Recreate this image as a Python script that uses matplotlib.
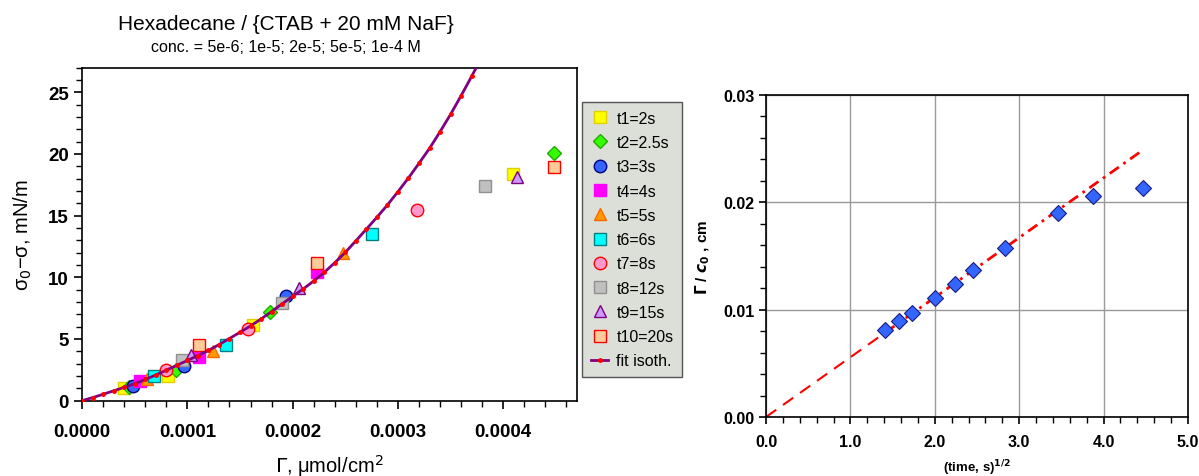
import matplotlib
matplotlib.use("Agg")
import matplotlib.pyplot as plt
from matplotlib.ticker import MultipleLocator, FormatStrFormatter
import numpy as np

plt.rcParams['font.family'] = ['Liberation Sans', 'DejaVu Sans']

# ---------------- data: left panel ----------------
series_labels = ["t1=2s", "t2=2.5s", "t3=3s", "t4=4s", "t5=5s",
                 "t6=6s", "t7=8s", "t8=12s", "t9=15s", "t10=20s"]

t1_gamma = [0.0000402, 0.0000814, 0.0001627, 0.0004097]
t1_pi = [1.00, 2.03, 6.13, 18.37]
t2_gamma = [0.0000450, 0.0000893, 0.0001785, 0.0004486]
t2_pi = [1.15, 2.51, 7.21, 20.05]
t3_gamma = [0.0000481, 0.0000972, 0.0001937]
t3_pi = [1.22, 2.79, 8.51]
t4_gamma = [0.0000554, 0.0001114, 0.0002229]
t4_pi = [1.62, 3.57, 10.40]
t5_gamma = [0.0000620, 0.0001241, 0.0002482]
t5_pi = [1.76, 4.05, 11.94]
t6_gamma = [0.0000687, 0.0001368, 0.0002749]
t6_pi = [2.03, 4.51, 13.48]
t7_gamma = [0.0000795, 0.0001580, 0.0003180]
t7_pi = [2.49, 5.81, 15.45]
t8_gamma = [0.0000953, 0.0001902, 0.0003823]
t8_pi = [3.30, 7.92, 17.37]
t9_gamma = [0.0001032, 0.0002061, 0.0004135]
t9_pi = [3.73, 9.11, 18.10]
t10_gamma = [0.0001114, 0.0002229, 0.0004486]
t10_pi = [4.54, 11.13, 18.91]

fit_gamma = [0.0, 0.00001, 0.00002, 0.00003, 0.00004, 0.00005, 0.00006, 0.00007,
             0.00008, 0.00009, 0.00010, 0.00011, 0.00012, 0.00013, 0.00014,
             0.00015, 0.00016, 0.00017, 0.00018, 0.00019, 0.00020, 0.00021,
             0.00022, 0.00023, 0.00024, 0.00025, 0.00026, 0.00027, 0.00028,
             0.00029, 0.00030, 0.00031, 0.00032, 0.00033, 0.00034, 0.00035,
             0.00036, 0.00037, 0.00038]
fit_pi = [0.0, 0.25, 0.52, 0.80, 1.08, 1.38, 1.72, 2.08, 2.47, 2.86, 3.26, 3.65,
          4.07, 4.54, 5.04, 5.54, 6.06, 6.62, 7.22, 7.85, 8.46, 9.05, 9.70,
          10.40, 11.18, 12.02, 12.95, 13.90, 14.86, 15.86, 16.94, 18.05, 19.24,
          20.45, 21.80, 23.21, 24.72, 26.29, 27.90]

# ---------------- data: right panel ----------------
sqrt_time = [1.414, 1.581, 1.732, 2.000, 2.236, 2.449, 2.828, 3.464, 3.873, 4.472]
gamma_over_c = [0.00814, 0.00891, 0.00972, 0.01111, 0.01241, 0.01365,
                0.01578, 0.01901, 0.02056, 0.02133]
fit_slope = 0.00557

# ---------------- styles ----------------
styles = [
    dict(marker='s', mfc='#ffff00', mec='#e0d000'),
    dict(marker='D', mfc='#33ff00', mec='#22aa00'),
    dict(marker='o', mfc='#3366ff', mec='#000080'),
    dict(marker='s', mfc='#ff00ff', mec='#ff00ff'),
    dict(marker='^', mfc='#ff9900', mec='#ff6600'),
    dict(marker='s', mfc='#00ffff', mec='#008080'),
    dict(marker='o', mfc='#ff99cc', mec='#ff0000'),
    dict(marker='s', mfc='#c0c0c0', mec='#909090'),
    dict(marker='^', mfc='#cc99ff', mec='#800080'),
    dict(marker='s', mfc='#ffcc99', mec='#ff0000'),
]
sizes = [9, 7, 9, 8, 9, 9, 9, 9, 9, 9]

W, H = 1199, 477
fig = plt.figure(figsize=(W / 100, H / 100), dpi=100)

# ---------------- left panel ----------------
axL = fig.add_axes([82 / W, 1 - 401.7 / H, (577 - 82) / W, (401.7 - 68.5) / H])
gammas = [t1_gamma, t2_gamma, t3_gamma, t4_gamma, t5_gamma,
          t6_gamma, t7_gamma, t8_gamma, t9_gamma, t10_gamma]
pis = [t1_pi, t2_pi, t3_pi, t4_pi, t5_pi, t6_pi, t7_pi, t8_pi, t9_pi, t10_pi]

handles = []
for g, p, lab, st, ms in zip(gammas, pis, series_labels, styles, sizes):
    h, = axL.plot(g, p, linestyle='none', markersize=ms, markeredgewidth=1.0,
                  label=lab, zorder=3, **st)
    handles.append(h)

hfit, = axL.plot(fit_gamma, fit_pi, color='#800080', lw=2.0, marker='o',
                 markersize=2.5, mfc='#ff0000', mec='#ff0000',
                 label='fit isoth.', zorder=4)
handles.append(hfit)

axL.set_xlim(0, 0.00047)
axL.set_ylim(0, 27)
axL.xaxis.set_major_locator(MultipleLocator(0.0001))
axL.xaxis.set_minor_locator(MultipleLocator(0.00002))
axL.yaxis.set_major_locator(MultipleLocator(5))
axL.yaxis.set_minor_locator(MultipleLocator(1))
axL.xaxis.set_major_formatter(FormatStrFormatter('%.4f'))
axL.tick_params(axis='both', which='major', direction='out', length=6, width=1.2,
                labelsize=13.5)
axL.tick_params(axis='both', which='minor', direction='out', length=4, width=1.0)
axL.tick_params(axis='x', pad=10)
for lbl in axL.get_xticklabels() + axL.get_yticklabels():
    lbl.set_fontweight('bold')
for sp in axL.spines.values():
    sp.set_linewidth(1.2)

axL.set_xlabel(r'$\Gamma$, μmol/cm$^2$', fontsize=14.5)
axL.xaxis.set_label_coords(0.5, -0.155)
axL.set_ylabel(r'σ$_0$−σ, mN/m', fontsize=14.5, labelpad=10)

fig.text(286 / W, 1 - 25 / H, 'Hexadecane / {CTAB + 20 mM NaF}', fontsize=15,
         ha='center', va='center')
fig.text(286 / W, 1 - 48 / H, 'conc. = 5e-6; 1e-5; 2e-5; 5e-5; 1e-4 M', fontsize=11.5,
         ha='center', va='center')

leg = fig.legend(handles=handles, loc='upper left',
                 bbox_to_anchor=(582 / W, 1 - 103 / H), fontsize=11.5,
                 frameon=True, fancybox=False, framealpha=1,
                 facecolor='#dcdfd8', edgecolor='#555555',
                 handlelength=1.1, handletextpad=0.5, labelspacing=0.58,
                 borderpad=0.55, borderaxespad=0, numpoints=1)
leg.get_frame().set_linewidth(1.0)

# ---------------- right panel ----------------
axR = fig.add_axes([766 / W, 1 - 418 / H, (1188 - 766) / W, (418 - 96) / H])
axR.grid(True, which='major', color='#999999', lw=1.0)
axR.set_axisbelow(True)
# extrapolation from origin to first point, and fit through the data
x_ext = [0.0, sqrt_time[0]]
axR.plot(x_ext, [fit_slope * v for v in x_ext], color='#ff0000', lw=1.5,
         linestyle=(0, (6, 4)), zorder=2)
x_fit = [sqrt_time[0], sqrt_time[-1]]
axR.plot(x_fit, [fit_slope * v for v in x_fit], color='#ff0000', lw=2.0,
         linestyle=(0, (4, 2, 1, 2)), zorder=2)
axR.plot(sqrt_time, gamma_over_c, linestyle='none', marker='D', markersize=8,
         mfc='#3366ff', mec='#1a1a80', mew=0.8, zorder=3)

axR.set_xlim(0, 5)
axR.set_ylim(0, 0.03)
axR.xaxis.set_major_locator(MultipleLocator(1.0))
axR.xaxis.set_minor_locator(MultipleLocator(0.2))
axR.yaxis.set_major_locator(MultipleLocator(0.01))
axR.yaxis.set_minor_locator(MultipleLocator(0.002))
axR.xaxis.set_major_formatter(FormatStrFormatter('%.1f'))
axR.yaxis.set_major_formatter(FormatStrFormatter('%.2f'))
axR.tick_params(axis='both', which='major', direction='out', length=5, width=1.2,
                labelsize=11.5)
axR.tick_params(axis='both', which='minor', direction='out', length=4, width=1.0)
axR.tick_params(axis='x', pad=7)
for lbl in axR.get_xticklabels() + axR.get_yticklabels():
    lbl.set_fontweight('bold')
for sp in axR.spines.values():
    sp.set_linewidth(1.2)

axR.set_xlabel(r'(time, s)$^{\mathbf{1/2}}$', fontsize=9.5, fontweight='bold')
axR.xaxis.set_label_coords(0.5, -0.125)
axR.set_ylabel(r'$\mathbf{\Gamma}$ / $\boldsymbol{c}_{\mathbf{0}}$ , cm', fontsize=11,
               fontweight='bold')
axR.yaxis.set_label_coords(-0.128, 0.5)

fig.savefig('out.png', dpi=100)
